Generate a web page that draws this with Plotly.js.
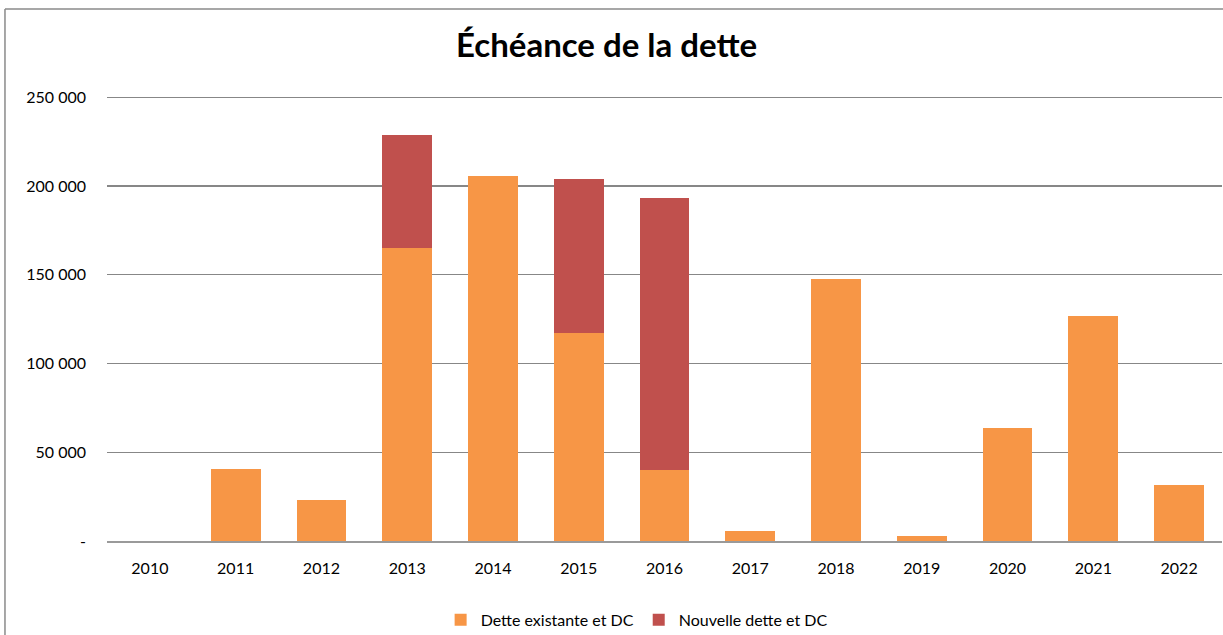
<!DOCTYPE html>
<html>
<head>
<meta charset="utf-8">
<script src="https://cdn.plot.ly/plotly-3.0.1.min.js"></script>
<style>
html,body{margin:0;padding:0;background:#fff;}
#chart{width:1223px;height:635px;}
</style>
</head>
<body>
<div id="chart"></div>
<script>
const years = ["2010","2011","2012","2013","2014","2015","2016","2017","2018","2019","2020","2021","2022"];
const detteExistante = [0, 40500, 23100, 165200, 205500, 117300, 40000, 5600, 147500, 2800, 63600, 126700, 31500];
const nouvelleDette = [0, 0, 0, 63400, 0, 86500, 153100, 0, 0, 0, 0, 0, 0];
const yTickVals = [0, 50000, 100000, 150000, 200000, 250000];
const yTickText = ["-", "50 000", "100 000", "150 000", "200 000", "250 000"];

const font = "Lato, 'Open Sans', sans-serif";

const traces = [
  {type:"bar", name:"Dette existante et DC", x:years, y:detteExistante,
   marker:{color:"#F79646"}, hoverinfo:"x+y"},
  {type:"bar", name:"Nouvelle dette et DC", x:years, y:nouvelleDette,
   marker:{color:"#C0504D"}, hoverinfo:"x+y"}
];

const layout = {
  width:1223, height:635,
  margin:{l:107, r:1, t:94, b:94, autoexpand:false},
  paper_bgcolor:"#fff", plot_bgcolor:"#fff",
  barmode:"stack", bargap:0.42,
  font:{family:font, color:"#000", size:16},
  title:{text:"<b>Échéance de la dette</b>", x:0.496, xref:"container", y:0.929, yref:"container",
         xanchor:"center", yanchor:"middle", font:{family:font, size:33, color:"#000"}},
  xaxis:{type:"category", tickfont:{size:16, color:"#000"}, showgrid:false, automargin:false,
         showline:true, linecolor:"#9a9a9a", linewidth:1.5, ticks:"", ticklen:0,
         ticklabelstandoff:12},
  yaxis:{range:[0,251800], tickvals:yTickVals, ticktext:yTickText, showgrid:true, automargin:false,
         gridcolor:"#878787", gridwidth:1.2, zeroline:false, showline:false,
         tickfont:{size:16, color:"#000"}, ticks:"", ticklabelstandoff:20},
  showlegend:true,
  legend:{orientation:"h", x:0.475, xanchor:"center", y:-0.1385, yanchor:"top",
          font:{size:16, color:"#000"}, itemwidth:30, traceorder:"normal"},
  shapes:[
    {type:"line", xref:"paper", yref:"paper", x0:-0.0915, x1:-0.0915, y0:-0.3, y1:1.19,
     line:{color:"#8a8a8a", width:1.5}},
    {type:"line", xref:"paper", yref:"paper", x0:-0.0915, x1:1.01, y0:1.19, y1:1.19,
     line:{color:"#8a8a8a", width:1.5}}
  ]
};

Plotly.newPlot("chart", traces, layout, {displayModeBar:false, staticPlot:true});
</script>
</body>
</html>
